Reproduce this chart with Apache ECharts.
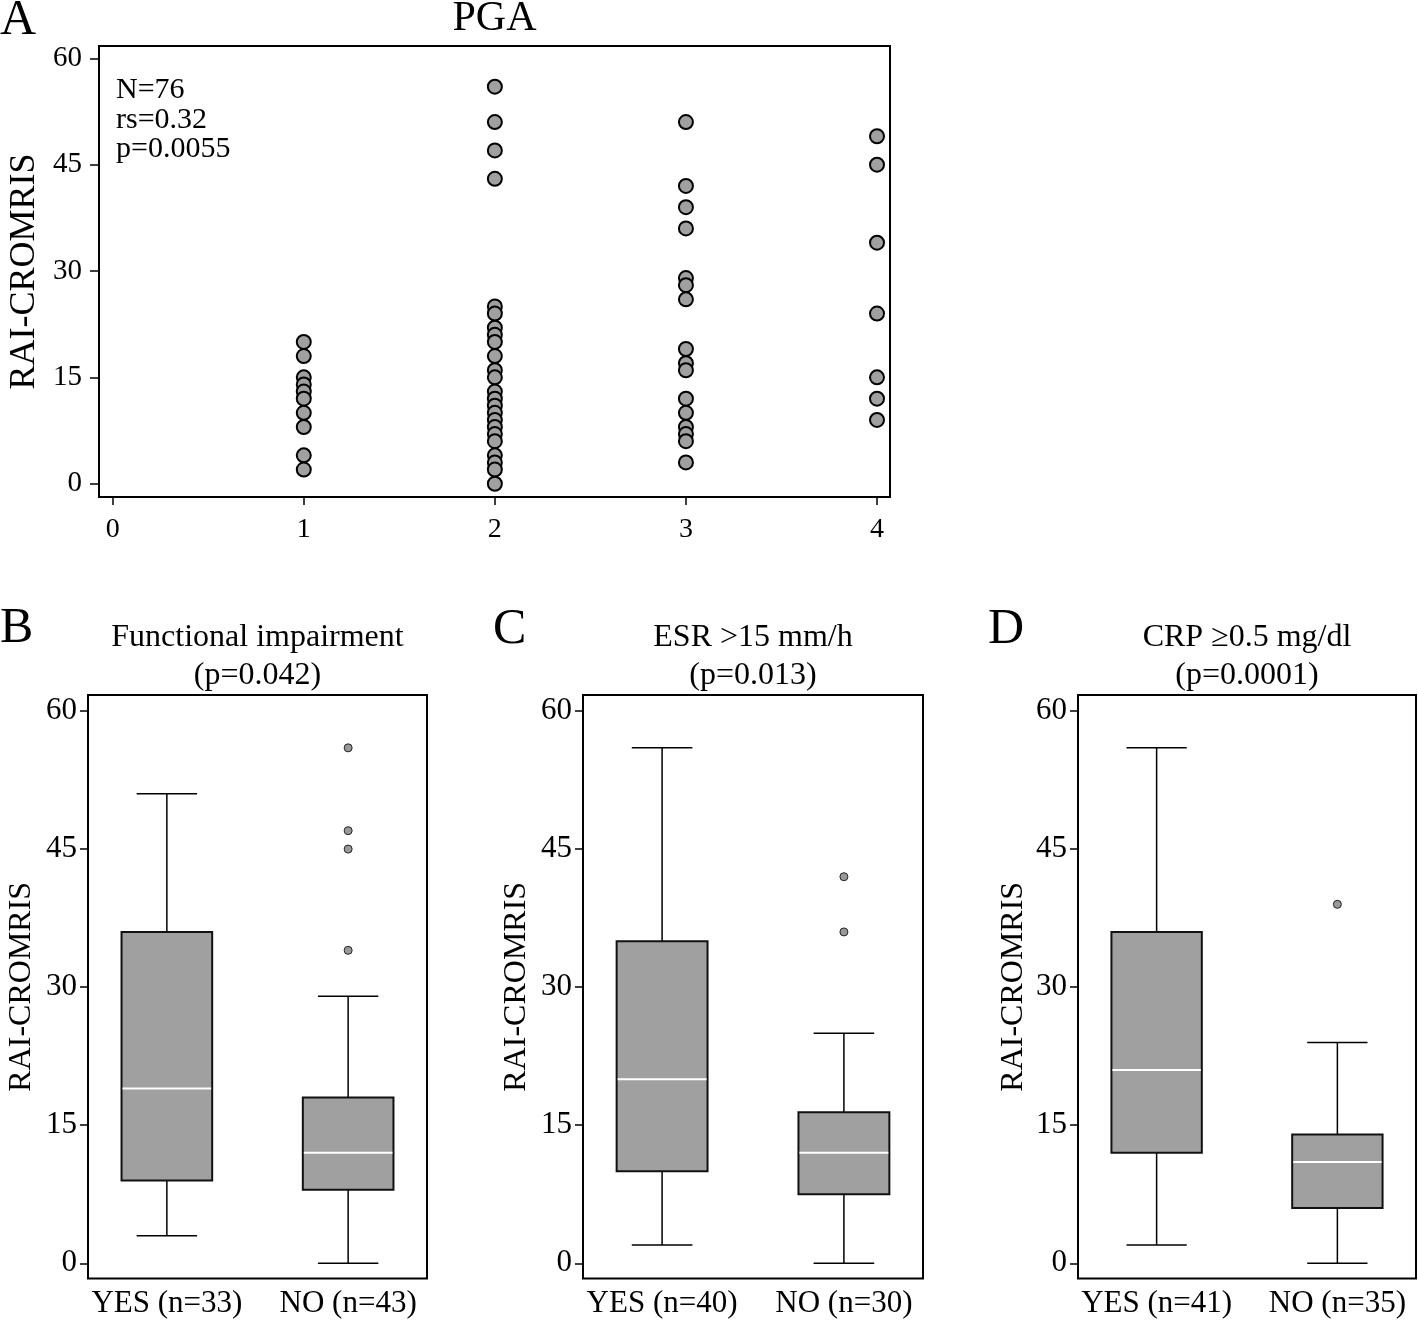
<!DOCTYPE html>
<html><head><meta charset="utf-8">
<script src="https://cdn.jsdelivr.net/npm/echarts@6/dist/echarts.min.js"></script>
<style>html,body{margin:0;padding:0;background:#fff}#chart{width:1418px;height:1321px}</style>
</head><body><div id="chart"></div>
<script>
// ---------- data ----------
const yTicks = [0, 15, 30, 45, 60];
const pgaTicks = [0, 1, 2, 3, 4];
const pga1 = [20, 18, 15, 14, 13, 12, 10, 8, 4, 2];
const pga2 = [56, 51, 47, 43, 25, 24, 22, 21, 20, 18, 16, 15, 13, 12, 11, 10, 9, 8, 7, 6, 4, 3, 2, 0];
const pga3 = [51, 42, 39, 36, 29, 28, 26, 19, 17, 16, 12, 10, 8, 7, 6, 3];
const pga4 = [49, 45, 34, 24, 15, 12, 9];
const pgaStats = ['N=76', 'rs=0.32', 'p=0.0055'];

const funcCategories = ['YES (n=33)', 'NO (n=43)'];
const funcYes = [3, 9, 19, 36, 51];
const funcNo = [0, 8, 12, 18, 29];
const funcOutliersNo = [56, 47, 45, 34];

const esrCategories = ['YES (n=40)', 'NO (n=30)'];
const esrYes = [2, 10, 20, 35, 56];
const esrNo = [0, 7.5, 12, 16.4, 25];
const esrOutliersNo = [42, 36];

const crpCategories = ['YES (n=41)', 'NO (n=35)'];
const crpYes = [2, 12, 21, 36, 56];
const crpNo = [0, 6, 11, 14, 24];
const crpOutliersNo = [39];

// ---------- chart ----------
const FONT = "'Liberation Serif', 'Times New Roman', serif";
const chart = echarts.init(document.getElementById('chart'), null, {renderer: 'canvas'});

function renderBox(params, api) {
  const x = api.value(0);
  const lo = api.coord([x, api.value(1)]);
  const q1 = api.coord([x, api.value(2)]);
  const md = api.coord([x, api.value(3)]);
  const q3 = api.coord([x, api.value(4)]);
  const hi = api.coord([x, api.value(5)]);
  const bw = api.size([0.5, 0])[0];
  const cw = api.size([1 / 3, 0])[0];
  const cx = lo[0];
  const ws = {stroke: '#000', lineWidth: 1.5, fill: null};
  return {type: 'group', children: [
    {type: 'line', shape: {x1: cx, y1: hi[1], x2: cx, y2: q3[1]}, style: ws},
    {type: 'line', shape: {x1: cx, y1: q1[1], x2: cx, y2: lo[1]}, style: ws},
    {type: 'line', shape: {x1: cx - cw / 2, y1: hi[1], x2: cx + cw / 2, y2: hi[1]}, style: ws},
    {type: 'line', shape: {x1: cx - cw / 2, y1: lo[1], x2: cx + cw / 2, y2: lo[1]}, style: ws},
    {type: 'rect', shape: {x: cx - bw / 2, y: q3[1], width: bw, height: q1[1] - q3[1]},
      style: {fill: '#a0a0a0', stroke: '#111', lineWidth: 2}},
    {type: 'line', shape: {x1: cx - bw / 2 + 1, y1: md[1], x2: cx + bw / 2 - 1, y2: md[1]},
      style: {stroke: '#fff', lineWidth: 2}}
  ]};
}

const gridBase = {show: true, borderColor: '#000', borderWidth: 2, backgroundColor: 'transparent',
  containLabel: false, outerBoundsMode: 'none'};
const grids = [
  Object.assign({left: 99, top: 46, width: 791, height: 451}, gridBase),
  Object.assign({left: 88, top: 695, width: 339, height: 583.5}, gridBase),
  Object.assign({left: 583, top: 695, width: 340, height: 583.5}, gridBase),
  Object.assign({left: 1078, top: 695, width: 338, height: 583.5}, gridBase)
];

const labelStyle = (size) => ({color: '#000', fontFamily: FONT, fontSize: size});

function boxYAxis(idx, gap) {
  return {gridIndex: idx, type: 'value', min: -1.65, max: 61.74,
    axisLine: {show: false, onZero: false}, splitLine: {show: false},
    axisTick: {show: true, inside: false, length: 8, customValues: yTicks, lineStyle: {color: '#000', width: 1.5}},
    axisLabel: Object.assign({customValues: yTicks, margin: 11}, labelStyle(31)),
    name: 'RAI-CROMRIS', nameLocation: 'middle', nameGap: gap,
    nameTextStyle: labelStyle(32)};
}
function boxXAxis(idx, cats) {
  return {gridIndex: idx, type: 'value', min: 0.565, max: 2.435,
    axisLine: {show: false, onZero: false}, axisTick: {show: false}, splitLine: {show: false},
    axisLabel: Object.assign({customValues: [1, 2], margin: 10,
      formatter: (v) => cats[Math.round(v) - 1]}, labelStyle(31))};
}

function boxSeries(idx, yes, no, outNo) {
  return [
    {type: 'custom', xAxisIndex: idx, yAxisIndex: idx, renderItem: renderBox,
      encode: {x: 0, y: [1, 2, 3, 4, 5]},
      data: [[1].concat(yes), [2].concat(no)], silent: true},
    {type: 'scatter', xAxisIndex: idx, yAxisIndex: idx, symbol: 'circle', symbolSize: 8,
      itemStyle: {color: '#999', borderColor: '#222', borderWidth: 1, opacity: 1},
      data: outNo.map((v) => [2, v]), silent: true}
  ];
}

const pgaGroups = [pga1, pga2, pga3, pga4];
const pgaData = [];
pgaGroups.forEach((g, i) => g.forEach((v) => pgaData.push([i + 1, v])));

function txt(text, x, y, size, align) {
  return {type: 'text', x: x, y: y, silent: true,
    style: {text: text, fill: '#000', fontFamily: FONT, fontSize: size,
      align: align || 'left', verticalAlign: 'middle'}};
}

const option = {
  animation: false,
  backgroundColor: '#fff',
  grid: grids,
  xAxis: [
    {gridIndex: 0, type: 'value', min: -0.0717, max: 4.068,
      axisLine: {show: false, onZero: false}, splitLine: {show: false},
      axisTick: {show: true, inside: false, length: 8, customValues: pgaTicks, lineStyle: {color: '#000', width: 1.5}},
      axisLabel: Object.assign({customValues: pgaTicks, margin: 19}, labelStyle(28))},
    boxXAxis(1, funcCategories),
    boxXAxis(2, esrCategories),
    boxXAxis(3, crpCategories)
  ],
  yAxis: [
    {gridIndex: 0, type: 'value', min: -1.87, max: 61.73,
      axisLine: {show: false, onZero: false}, splitLine: {show: false},
      axisTick: {show: true, inside: false, length: 9, customValues: yTicks, lineStyle: {color: '#000', width: 1.5}},
      axisLabel: Object.assign({customValues: yTicks, margin: 17}, labelStyle(29)),
      name: 'RAI-CROMRIS', nameLocation: 'middle', nameGap: 55, nameTextStyle: labelStyle(36)},
    boxYAxis(1, 50),
    boxYAxis(2, 50),
    boxYAxis(3, 48)
  ],
  series: [
    {type: 'scatter', xAxisIndex: 0, yAxisIndex: 0, symbol: 'circle', symbolSize: 14,
      itemStyle: {color: '#a0a0a0', borderColor: '#000', borderWidth: 2, opacity: 1},
      data: pgaData, silent: true}
  ].concat(
    boxSeries(1, funcYes, funcNo, funcOutliersNo),
    boxSeries(2, esrYes, esrNo, esrOutliersNo),
    boxSeries(3, crpYes, crpNo, crpOutliersNo)
  ),
  graphic: [
    txt('A', 0, 21, 50),
    txt('PGA', 494.5, 19, 42, 'center'),
    {type: 'text', x: 116, y: 75.5, silent: true,
      style: {text: pgaStats.join('\n'), fill: '#000', fontFamily: FONT, fontSize: 30,
        lineHeight: 29.5, align: 'left', verticalAlign: 'top'}},
    txt('B', 0, 629, 50),
    txt('Functional impairment', 257.5, 638, 32, 'center'),
    txt('(p=0.042)', 257.5, 676, 32, 'center'),
    txt('C', 493, 630, 50),
    txt('ESR >15 mm/h', 753, 638, 32, 'center'),
    txt('(p=0.013)', 753, 676, 32, 'center'),
    txt('D', 988, 630, 50),
    txt('CRP \u22650.5 mg/dl', 1247, 638, 32, 'center'),
    txt('(p=0.0001)', 1247, 676, 32, 'center')
  ]
};
chart.setOption(option);
</script>
</body></html>
